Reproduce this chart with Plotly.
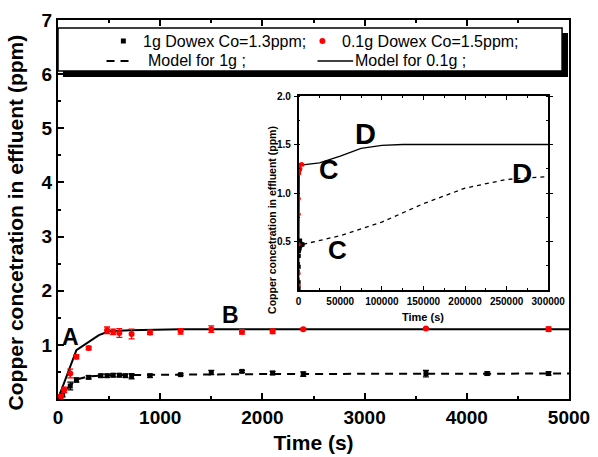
import plotly.graph_objects as go

# ---------------- data ----------------
t_1g = [15, 45, 120, 180, 300, 420, 480, 540, 600, 660, 720, 900, 1200, 1500, 1800, 2100, 2400, 3600, 4200, 4800]
c_1g = [0.02, 0.08, 0.24, 0.35, 0.40, 0.43, 0.43, 0.44, 0.44, 0.43, 0.42, 0.43, 0.45, 0.49, 0.51, 0.48, 0.46, 0.47, 0.47, 0.47]
e_1g = [0.02, 0.04, 0.07, 0.04, 0.03, 0.03, 0.03, 0.03, 0.03, 0.03, 0.05, 0.03, 0.02, 0.04, 0.02, 0.03, 0.04, 0.06, 0.03, 0.03]

t_01g = [30, 60, 120, 180, 300, 480, 540, 600, 720, 900, 1200, 1500, 1800, 2100, 2400, 3600, 4800]
c_01g = [0.05, 0.17, 0.47, 0.78, 0.94, 1.27, 1.24, 1.22, 1.20, 1.23, 1.25, 1.29, 1.24, 1.25, 1.29, 1.30, 1.29]
e_01g = [0.03, 0.05, 0.08, 0.04, 0.03, 0.06, 0.05, 0.08, 0.09, 0.04, 0.05, 0.06, 0.04, 0.04, 0.02, 0.02, 0.04]

# model curves (short time)
tm_1g = [0, 60, 180, 300, 500, 1000, 2000, 3000, 5000]
cm_1g = [0, 0.14, 0.36, 0.42, 0.44, 0.45, 0.46, 0.465, 0.47]
tm_01g = [0, 180, 400, 500, 700, 1200, 2000, 5000]
cm_01g = [0, 0.90, 1.18, 1.25, 1.27, 1.29, 1.29, 1.29]

# model curves (long time, inset)
tl_1g = [50000, 100000, 150000, 200000, 250000, 300000]
cl_1g = [0.56, 0.70, 0.89, 1.05, 1.14, 1.17]
tl_01g = [25000, 50000, 75000, 100000, 125000, 300000]
cl_01g = [1.31, 1.38, 1.46, 1.49, 1.50, 1.50]

x_ticks = [0, 1000, 2000, 3000, 4000, 5000]
y_ticks = [1, 2, 3, 4, 5, 6, 7]
x2_ticks = [0, 50000, 100000, 150000, 200000, 250000, 300000]
y2_ticks = [0.5, 1.0, 1.5, 2.0]

# ---------------- layout helpers ----------------
W, H = 598, 457
L, R, T, B = 58, 574, 20, 399
FONT = "Arial, Liberation Sans, sans-serif"


def px(x):
    return (x - L) / (R - L)


def py(y):
    return (B - y) / (B - T)


fig = go.Figure()

# main plot traces
fig.add_trace(go.Scatter(x=tm_1g, y=cm_1g, mode="lines",
                         line=dict(color="black", width=2, dash="8px,6px"),
                         xaxis="x", yaxis="y"))
fig.add_trace(go.Scatter(x=tm_01g, y=cm_01g, mode="lines",
                         line=dict(color="black", width=2),
                         xaxis="x", yaxis="y"))
fig.add_trace(go.Scatter(x=t_1g, y=c_1g, mode="markers",
                         marker=dict(symbol="square", size=5, color="black"),
                         error_y=dict(type="data", array=e_1g, color="black", thickness=1.3, width=3),
                         xaxis="x", yaxis="y"))
fig.add_trace(go.Scatter(x=t_01g, y=c_01g, mode="markers",
                         marker=dict(symbol="circle", size=6, color="red"),
                         error_y=dict(type="data", array=e_01g, color="red", thickness=1.3, width=3),
                         xaxis="x", yaxis="y"))

# inset traces
fig.add_trace(go.Scatter(x=tm_1g + tl_1g, y=cm_1g + cl_1g, mode="lines",
                         line=dict(color="black", width=1.3, dash="4px,4px"),
                         xaxis="x2", yaxis="y2"))
fig.add_trace(go.Scatter(x=tm_01g + tl_01g, y=cm_01g + cl_01g, mode="lines",
                         line=dict(color="black", width=1.3),
                         xaxis="x2", yaxis="y2"))
fig.add_trace(go.Scatter(x=t_1g, y=c_1g, mode="markers",
                         marker=dict(symbol="square", size=4, color="black"),
                         xaxis="x2", yaxis="y2"))
fig.add_trace(go.Scatter(x=t_01g, y=c_01g, mode="markers",
                         marker=dict(symbol="circle", size=4, color="red"),
                         xaxis="x2", yaxis="y2"))

tick_font = dict(family=FONT, size=19, color="black", weight="bold")
in_font = dict(family=FONT, size=10, color="black", weight="bold")

fig.update_layout(
    width=W, height=H,
    margin=dict(l=L, r=W - R, t=T, b=H - B),
    paper_bgcolor="white", plot_bgcolor="white",
    showlegend=False,
    xaxis=dict(range=[0, 5000], tickvals=x_ticks, ticktext=[str(v) for v in x_ticks],
               ticks="inside", ticklen=6, tickwidth=1.5, tickcolor="black",
               minor=dict(dtick=500, ticks="inside", ticklen=3, tickcolor="black"),
               showline=True, linewidth=2, linecolor="black", mirror="ticks",
               showgrid=False, zeroline=False, tickfont=tick_font, automargin=False,
               title=dict(text="Time (s)", font=dict(family=FONT, size=21, color="black", weight="bold"), standoff=9),
               domain=[0, 1], anchor="y"),
    yaxis=dict(range=[0, 7], tickvals=y_ticks, ticktext=[str(v) for v in y_ticks],
               ticks="inside", ticklen=6, tickwidth=1.5, tickcolor="black",
               minor=dict(dtick=0.5, ticks="inside", ticklen=3, tickcolor="black"),
               showline=True, linewidth=2, linecolor="black", mirror=True,
               showgrid=False, zeroline=False, tickfont=tick_font, automargin=False,
               domain=[0, 1], anchor="x"),
    yaxis3=dict(range=[0, 7], overlaying="y", side="right", anchor="x",
                tickvals=[i * 0.5 for i in range(15)], showticklabels=False,
                ticks="outside", ticklen=3, tickcolor="black", automargin=False,
                showline=False, showgrid=False, zeroline=False),
    xaxis2=dict(range=[0, 300000], tickvals=x2_ticks, ticktext=[str(v) for v in x2_ticks],
                domain=[px(301), px(553)], anchor="y2",
                ticks="inside", ticklen=4, tickcolor="black",
                minor=dict(dtick=25000, ticks="inside", ticklen=2, tickcolor="black"),
                showline=True, linewidth=1.5, linecolor="black", mirror="ticks",
                showgrid=False, zeroline=False, tickfont=in_font, ticklabelstandoff=1),
    yaxis2=dict(range=[0, 2], tickvals=y2_ticks, ticktext=["%.1f" % v for v in y2_ticks],
                domain=[py(290), py(96)], anchor="x2",
                ticks="outside", ticklen=3, tickcolor="black",
                minor=dict(dtick=0.25, ticks="inside", ticklen=2, tickcolor="black"),
                showline=True, linewidth=1.5, linecolor="black", mirror="ticks",
                showgrid=False, zeroline=False, tickfont=in_font, ticklabelstandoff=1),
)

# legend box with drop shadow (drawn manually)
shapes = [
    dict(type="rect", xref="paper", yref="paper", x0=px(63), x1=px(573), y0=py(77), y1=py(33),
         fillcolor="black", line=dict(width=0), layer="above"),
    dict(type="rect", xref="paper", yref="paper", x0=px(58), x1=px(567), y0=py(71), y1=py(28),
         fillcolor="white", line=dict(color="black", width=1.5), layer="above"),
    dict(type="rect", xref="paper", yref="paper", x0=px(121.5), x1=px(126.5), y0=py(43.5), y1=py(38.5),
         fillcolor="black", line=dict(width=0), layer="above"),
    dict(type="circle", xref="paper", yref="paper", x0=px(322), x1=px(328), y0=py(44), y1=py(38),
         fillcolor="red", line=dict(width=0), layer="above"),
    dict(type="line", xref="paper", yref="paper", x0=px(107), x1=px(133), y0=py(61), y1=py(61),
         line=dict(color="black", width=2, dash="8px,6px"), layer="above"),
    dict(type="line", xref="paper", yref="paper", x0=px(320), x1=px(356), y0=py(61), y1=py(61),
         line=dict(color="black", width=1.5), layer="above"),
]
fig.update_layout(shapes=shapes)

leg_font = dict(family=FONT, size=16, color="black")
ann = [
    dict(text="1g Dowex Co=1.3ppm;", x=px(142), y=py(41)),
    dict(text="0.1g Dowex Co=1.5ppm;", x=px(343), y=py(41)),
    dict(text="Model for 1g ;", x=px(147), y=py(61)),
    dict(text="Model for 0.1g ;", x=px(356), y=py(61)),
]
annotations = []
for a in ann:
    annotations.append(dict(text=a["text"], x=a["x"], y=a["y"], xref="paper", yref="paper",
                            xanchor="left", yanchor="middle", showarrow=False, font=leg_font))

big = lambda s: dict(family=FONT, size=s, color="black", weight="bold")
letters = [("A", 70.8, 336.7, 23), ("B", 231.7, 315, 23),
           ("D", 368.3, 134, 29), ("C", 331.7, 170, 27),
           ("C", 340.7, 250, 26), ("D", 526.7, 173.3, 28)]
for s, x, y, fs in letters:
    annotations.append(dict(text=s, x=px(x), y=py(y), xref="paper", yref="paper",
                            xanchor="center", yanchor="middle", showarrow=False, font=big(fs)))

annotations.append(dict(text="Copper concetration in effluent (ppm)", x=px(15), y=py(222),
                        xref="paper", yref="paper", textangle=-90, showarrow=False,
                        xanchor="center", yanchor="middle", font=big(21)))
annotations.append(dict(text="Time (s)", x=px(427), y=py(317), xref="paper", yref="paper",
                        showarrow=False, xanchor="center", yanchor="middle", font=big(11)))
annotations.append(dict(text="Copper concetration in effluent (ppm)", x=px(274), y=py(220),
                        xref="paper", yref="paper", textangle=-90, showarrow=False,
                        xanchor="center", yanchor="middle", font=big(10.5)))
fig.update_layout(annotations=annotations)

fig.write_html("out.html")
